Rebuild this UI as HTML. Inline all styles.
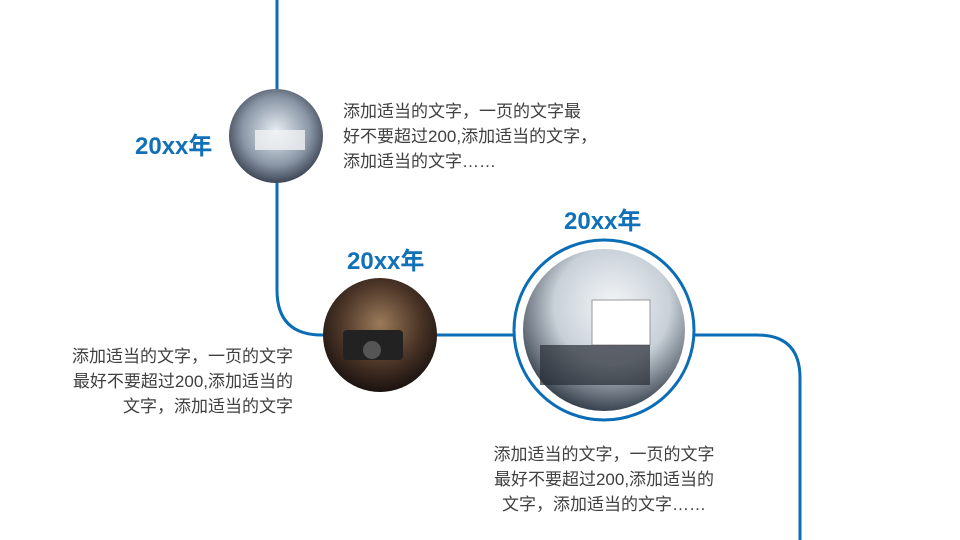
<!DOCTYPE html>
<html><head><meta charset="utf-8"><style>
body{margin:0;width:960px;height:540px;background:#fff;position:relative;overflow:hidden;font-family:"Liberation Sans","Noto Sans CJK SC",sans-serif}
.t{position:absolute;font-size:17px;line-height:25px;color:#404040;white-space:nowrap}
.y{position:absolute;font-size:24px;font-weight:bold;color:#1070b8}
</style></head><body>
<svg width="960" height="540" style="position:absolute;left:0;top:0">
<defs>
<radialGradient id="g1" cx="50%" cy="45%" r="60%"><stop offset="0" stop-color="#e8eef4"/><stop offset="0.6" stop-color="#8a96a6"/><stop offset="1" stop-color="#2a3140"/></radialGradient>
<radialGradient id="g2" cx="50%" cy="40%" r="60%"><stop offset="0" stop-color="#9a7a5a"/><stop offset="0.6" stop-color="#4a3426"/><stop offset="1" stop-color="#1a1210"/></radialGradient>
<radialGradient id="g3" cx="55%" cy="35%" r="65%"><stop offset="0" stop-color="#f4f6f8"/><stop offset="0.55" stop-color="#c8d0d8"/><stop offset="1" stop-color="#3a4450"/></radialGradient>
</defs>
<path d="M277 0 V290 Q277 335 322 335 H757 Q800 335 800 378 V540" fill="none" stroke="#0a6db5" stroke-width="3"/>
<circle cx="276" cy="136" r="47" fill="url(#g1)"/>
<rect x="255" y="130" width="50" height="20" fill="#f0f2f4" opacity="0.8"/>
<circle cx="380" cy="335" r="57" fill="url(#g2)"/>
<rect x="343" y="330" width="60" height="30" rx="4" fill="#222"/>
<circle cx="372" cy="350" r="9" fill="#555"/>
<circle cx="604" cy="330" r="90" fill="#fff" stroke="#0a6db5" stroke-width="3"/>
<circle cx="604" cy="330" r="81" fill="url(#g3)"/>
<rect x="592" y="300" width="58" height="45" fill="#fff" stroke="#999"/>
<rect x="540" y="345" width="110" height="40" fill="#2a2e36" opacity="0.7"/>
</svg>
<div class="y" style="left:135px;top:126px">20xx年</div>
<div class="y" style="left:347px;top:241px">20xx年</div>
<div class="y" style="left:564px;top:201px">20xx年</div>
<div class="t" style="left:343px;top:99px">添加适当的文字，一页的文字最<br>好不要超过200,添加适当的文字，<br>添加适当的文字……</div>
<div class="t" style="left:33px;top:344px;width:260px;text-align:right">添加适当的文字，一页的文字<br>最好不要超过200,添加适当的<br>文字，添加适当的文字</div>
<div class="t" style="left:454px;top:442px;width:300px;text-align:center">添加适当的文字，一页的文字<br>最好不要超过200,添加适当的<br>文字，添加适当的文字……</div>
</body></html>
